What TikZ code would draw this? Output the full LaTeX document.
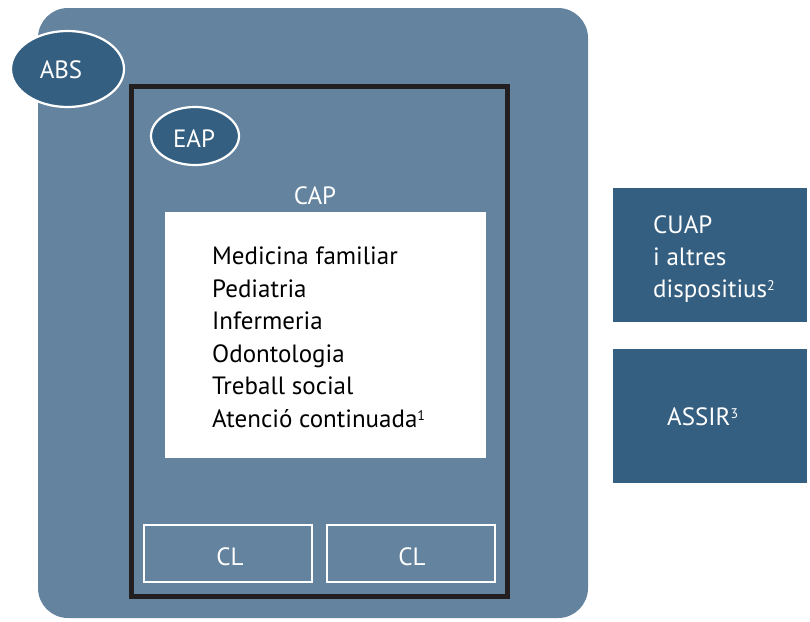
\documentclass[tikz,border=0pt]{standalone}
\usepackage{fontspec}
\setmainfont{PT Sans}
\usetikzlibrary{shapes.geometric}
\definecolor{absblue}{HTML}{64839F}
\definecolor{darkblue}{HTML}{355F80}
\definecolor{framegray}{HTML}{231F20}
\def\txt{\fontsize{25}{32}\selectfont}
\def\note#1{\raisebox{7pt}{\fontsize{14}{14}\selectfont#1}}
\tikzset{
  oval/.style={ellipse, fill=darkblue, draw=white, line width=2.2pt, inner sep=0pt},
  clbox/.style={draw=white, line width=2pt, minimum width=168pt, minimum height=57pt},
  sidebox/.style={fill=darkblue, minimum width=194pt, minimum height=134pt, inner sep=0pt},
  label/.style={font=\txt, anchor=base west, inner sep=0pt},
  wlabel/.style={font=\txt, anchor=base, inner sep=0pt, text=white}
}

\begin{document}
\begin{tikzpicture}[x=1pt, y=-1pt]
        \useasboundingbox (0,0) rectangle (810,621);
        \coordinate (absnw) at (38,8);
        \coordinate (absse) at (588,618);
        \coordinate (capnw) at (131.5,86);
        \coordinate (capse) at (507.5,596.5);
        \coordinate (listnw) at (165,212);
        \coordinate (listse) at (486,458);
        \fill[absblue, rounded corners=30pt] (absnw) rectangle (absse);
        \draw[framegray, line width=5pt] (capnw) rectangle (capse);
        \fill[white] (listnw) rectangle (listse);
        \node[oval, minimum width=113pt, minimum height=76pt] (abs) at (67.5,69) {};
        \node[wlabel] (abstxt) at (61,78) {ABS};
        \node[oval, minimum width=88pt, minimum height=58pt] (eap) at (195,136) {};
        \node[wlabel] (eaptxt) at (194,147) {EAP};
        \node[wlabel] (cap) at (315,204) {CAP};
        \foreach \t [count=\i] in {Medicina familiar, Pediatria, Infermeria, Odontologia, Treball social, Atenció continuada\note{1}}{
        \node[label] (s\i) at (212,{264.5+32.6*(\i-1)}) {\t};
        }
        \node[clbox] (cla) at (228,553.5) {};
        \node[clbox] (clb) at (411,553.5) {};
        \node[wlabel] (clatxt) at (230,565) {CL};
        \node[wlabel] (clbtxt) at (412,565) {CL};
        \node[sidebox] (cuap) at (710,254.5) {};
        \node[sidebox] (assir) at (710,415.5) {};
        \foreach \t [count=\i] in {CUAP, i altres, dispositius\note{2}}{
        \node[label, text=white] (c\i) at (653,{233+32*(\i-1)}) {\t};
        }
        \node[label, text=white] (assirtxt) at (667,425) {ASSIR\note{3}};
      \end{tikzpicture}
\end{document}
